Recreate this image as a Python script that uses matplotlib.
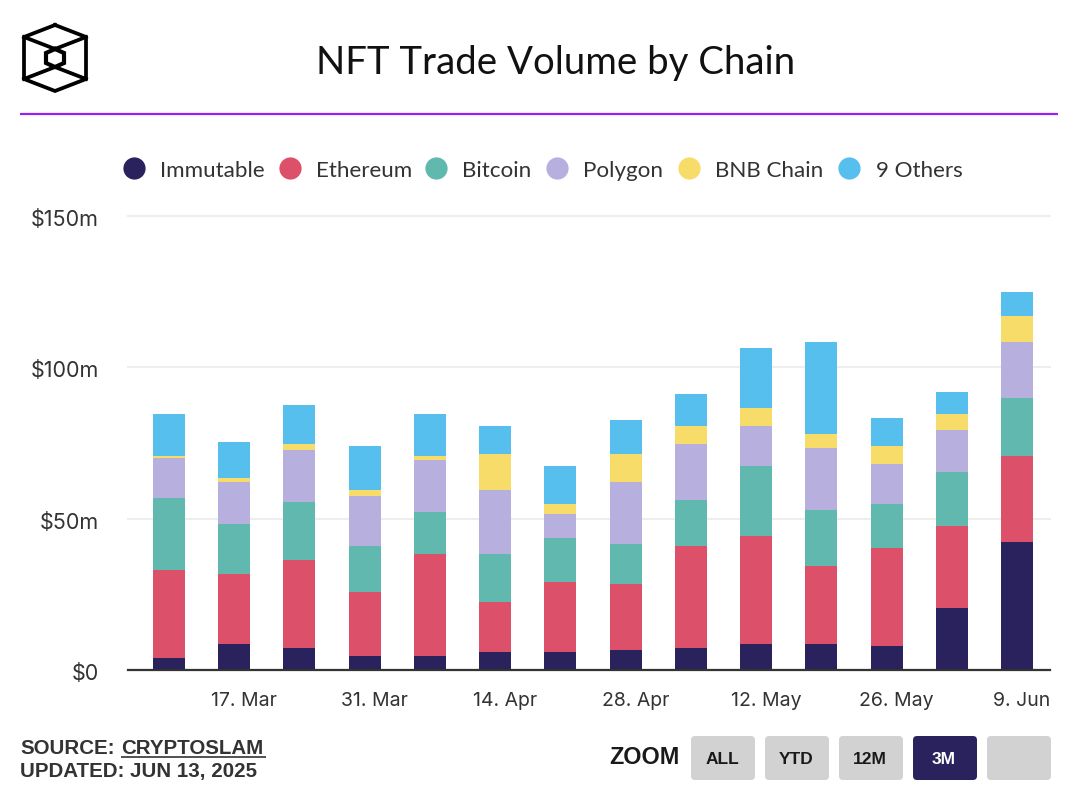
import matplotlib
matplotlib.use("Agg")
from matplotlib import pyplot as plt
from matplotlib.lines import Line2D
from matplotlib.patches import FancyBboxPatch
from matplotlib.transforms import ScaledTranslation

# segment values in $m
immutable = [4.0, 8.6, 7.3, 4.6, 4.6, 5.9, 5.9, 6.6, 7.3, 8.6, 8.6, 7.9, 20.5, 42.3]
ethereum = [29.1, 23.1, 29.1, 21.1, 33.7, 16.5, 23.1, 21.8, 33.7, 35.7, 25.8, 32.4, 27.1, 28.4]
bitcoin = [23.8, 16.5, 19.2, 15.2, 13.9, 15.9, 14.5, 13.2, 15.2, 23.1, 18.5, 14.5, 17.8, 19.2]
polygon = [13.2, 13.9, 17.2, 16.5, 17.2, 21.1, 7.9, 20.5, 18.5, 13.2, 20.5, 13.2, 13.9, 18.5]
bnb = [0.7, 1.3, 2.0, 2.0, 1.3, 11.9, 3.3, 9.3, 5.9, 5.9, 4.6, 5.9, 5.3, 8.6]
others = [13.9, 11.9, 12.6, 14.5, 13.9, 9.3, 12.6, 11.2, 10.6, 19.8, 30.4, 9.3, 7.3, 7.9]

series = [immutable, ethereum, bitcoin, polygon, bnb, others]
names = ["Immutable", "Ethereum", "Bitcoin", "Polygon", "BNB Chain", "9 Others"]
colors = ["#2a225c", "#dd5069", "#61b8ae", "#b7b0de", "#f8dc6a", "#57bfee"]

tick_idx = [1, 3, 5, 7, 9, 11, 13]
tick_labels = ["17. Mar", "31. Mar", "14. Apr", "28. Apr", "12. May", "26. May", "9. Jun"]
y_ticks = [0, 50, 100, 150]
y_labels = ["$0", "$50m", "$100m", "$150m"]

W, H = 1082, 794
TEXT = "#333333"


def fx(x):
    return x / W


def fy(y):
    return 1 - y / H


fig = plt.figure(figsize=(W / 100, H / 100), dpi=100)
ax = fig.add_axes([fx(128), fy(670), (1050 - 128) / W, (670 - 216) / H])

# stacked bars
bottom = [0] * len(immutable)
for vals, name, c in zip(series, names, colors):
    ax.bar(range(len(vals)), vals, width=0.49, bottom=bottom, color=c, label=name, zorder=3)
    bottom = [b + v for b, v in zip(bottom, vals)]

x_right = 13.506
ax.set_xlim(-0.6285, x_right)
ax.set_ylim(0, 150)
ax.set_yticks(y_ticks)
ax.set_yticklabels(y_labels, family="Inter", fontsize=15.5, color=TEXT)
# labels sit a little right of their bar, the last one stops at the plot edge
ax.set_xticks([i + 0.15 for i in tick_idx[:-1]] + [x_right])
ax.set_xticklabels(tick_labels, family="Inter", fontsize=14, color=TEXT)
ax.get_xticklabels()[-1].set_ha("right")
ax.tick_params(axis="both", length=0)
ax.tick_params(axis="x", pad=16)
ax.tick_params(axis="y", pad=21)
shift = ScaledTranslation(0, -2 / 100, fig.dpi_scale_trans)
for lab in ax.get_yticklabels():
    lab.set_transform(lab.get_transform() + shift)
ax.grid(axis="y", color="#eeeeee", lw=1.5, zorder=0)
for g in ax.get_ygridlines():
    g.set_clip_on(False)
for s in ["top", "left", "right"]:
    ax.spines[s].set_visible(False)
ax.spines["bottom"].set_color(TEXT)
ax.spines["bottom"].set_linewidth(1.6)
ax.spines["bottom"].set_zorder(5)

# header
fig.text(fx(555.5), fy(63), "NFT Trade Volume by Chain", family="Lato", fontsize=27.6,
         color="#111111", ha="center", va="center")
fig.add_artist(Line2D([fx(20), fx(1058)], [fy(114), fy(114)], color="#9b1ff0", lw=1.6,
                      solid_capstyle="butt"))

# logo
outer = [(55, 25), (86, 37), (86, 79), (55, 91), (24, 79), (24, 37), (55, 25)]
inner = [(55, 49), (64, 53), (64, 63), (55, 67), (46, 63), (46, 53), (55, 49)]
spokes = [[(24, 37), (55, 49), (86, 37)], [(24, 79), (55, 67), (86, 79)]]
for path in [outer, inner] + spokes:
    fig.add_artist(Line2D([fx(p[0]) for p in path], [fy(p[1]) for p in path],
                          color="black", lw=3.0 if path is inner else 2.7, solid_joinstyle="miter"))

# legend
leg_dot = [134, 290, 436, 557, 689, 849]
leg_text = [160, 316, 462, 583, 715, 876]
for dx, tx, name, c in zip(leg_dot, leg_text, names, colors):
    fig.add_artist(Line2D([fx(dx)], [fy(168)], marker="o", ms=16, color=c, mew=0, ls=""))
    fig.text(fx(tx), fy(171), name, family="Lato", fontsize=16.1, color=TEXT, ha="left", va="center")

# source lines
fig.text(fx(20), fy(748.5), "SOURCE:", family="Liberation Sans", weight="bold", fontsize=14.8,
         color=TEXT, va="center")
fig.text(fx(121), fy(748.5), "CRYPTOSLAM", family="Liberation Sans", weight="bold", fontsize=14.8,
         color=TEXT, va="center")
fig.add_artist(Line2D([fx(121), fx(266)], [fy(757), fy(757)], color=TEXT, lw=1.2,
                      solid_capstyle="butt"))
fig.text(fx(20), fy(772), "UPDATED: JUN 13, 2025", family="Liberation Sans", weight="bold",
         fontsize=14.8, color=TEXT, va="center")

# zoom buttons
fig.text(fx(644.5), fy(758), "ZOOM", family="Liberation Sans", weight="bold", fontsize=16.8,
         color="#1a1a1a", ha="center", va="center")
btn_x = [691, 765, 839, 913, 987]
btn_labels = ["ALL", "YTD", "12M", "3M", ""]
for bx, lab in zip(btn_x, btn_labels):
    active = lab == "3M"
    # display coordinates, y counted from the bottom of the figure
    fig.add_artist(FancyBboxPatch((bx + 3, H - 780 + 3), 58, 38, boxstyle="round,pad=3,rounding_size=4",
                                  transform=None, fc="#2a225c" if active else "#d2d2d2", ec="none"))
    fig.text(fx(bx + 31), fy(760), lab, family="Liberation Sans", weight="bold", fontsize=12.5,
             color="white" if active else "#1a1a1a", ha="center", va="center", zorder=5)

fig.savefig("out.png", dpi=100)
